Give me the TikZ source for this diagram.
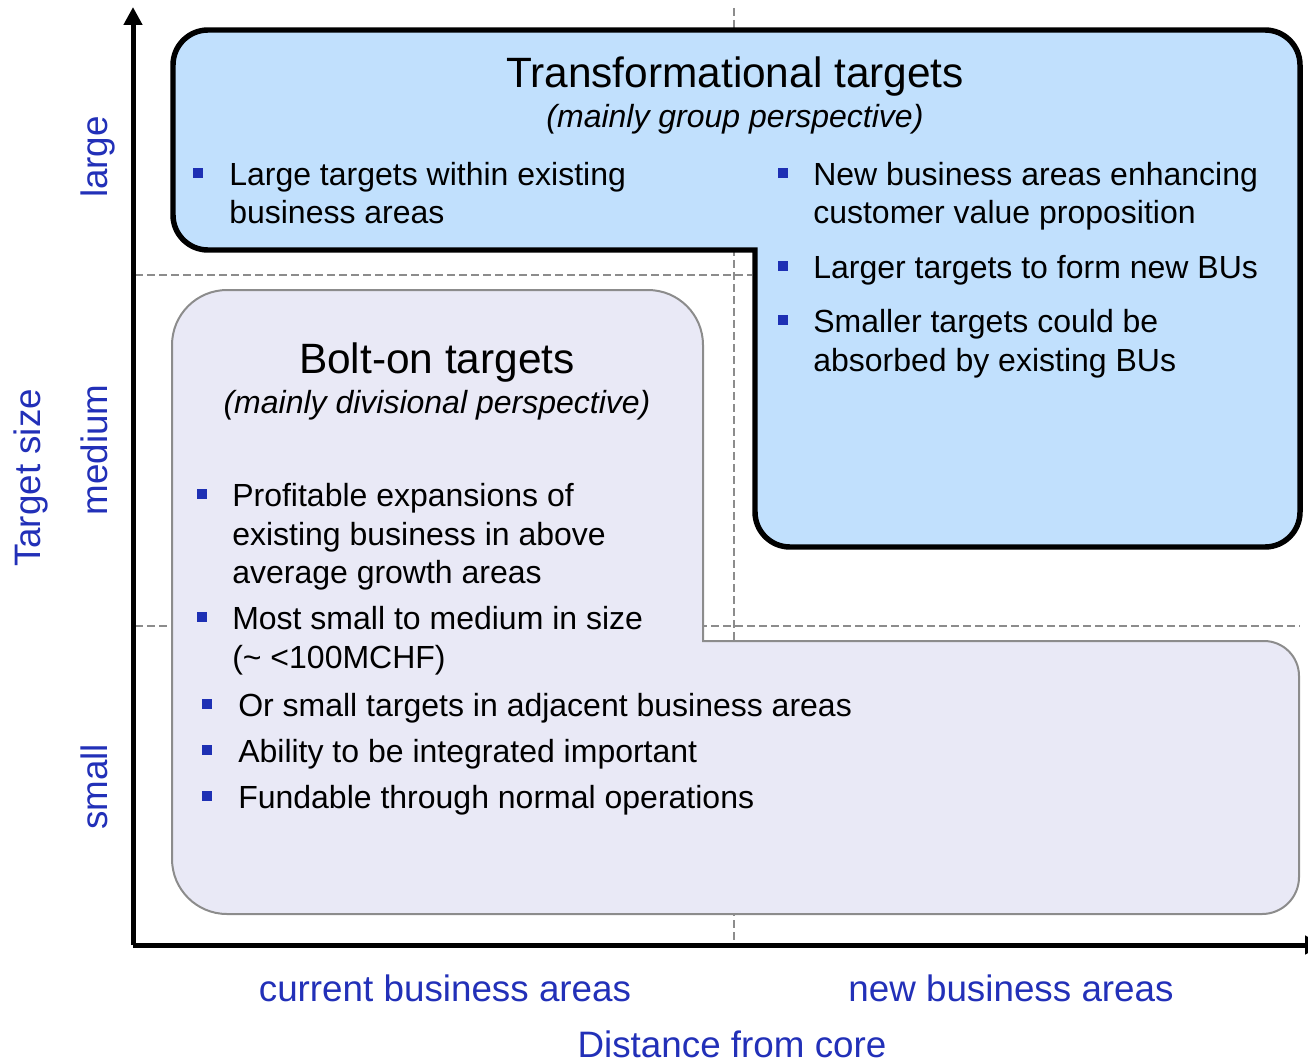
\documentclass[tikz,border=0pt]{standalone}
\usepackage{fontspec}
\setmainfont{Liberation Sans}
\usetikzlibrary{arrows.meta}

\definecolor{transfill}{RGB}{193,224,253}
\definecolor{boltfill}{RGB}{233,233,246}
\definecolor{boltline}{RGB}{140,140,140}
\definecolor{gridgrey}{RGB}{140,140,140}
\definecolor{labelblue}{RGB}{34,48,184}
\definecolor{bulletblue}{RGB}{30,48,180}

\tikzset{
  gridrule/.style={gridgrey, line width=1.1pt, dash pattern=on 6pt off 3pt},
  axisline/.style={line width=3.75pt, -{Triangle[length=13.5pt,width=13.5pt]}},
  transshape/.style={fill=transfill, draw=black, line width=4.1pt},
  boltshape/.style={fill=boltfill, draw=boltline, line width=1.5pt},
  bulletsq/.style={fill=bulletblue, inner sep=0pt, minimum size=7.3pt, draw=none},
  txt/.style={anchor=base west, inner sep=0pt, font=\fontsize{24}{28}\selectfont},
  bigtitle/.style={anchor=base, inner sep=0pt, font=\fontsize{31.8}{36}\selectfont},
  subtitle/.style={anchor=base, inner sep=0pt, font=\fontsize{24}{28}\selectfont\itshape},
  axislabel/.style={anchor=base, inner sep=0pt, text=labelblue, font=\fontsize{27.6}{32}\selectfont},
}

\begin{document}
\begin{tikzpicture}[x=0.75pt,y=0.75pt]
\useasboundingbox (0,0) rectangle (1308,-1063);
\clip (0,0) rectangle (1308,-1063);

% quadrant separators
\coordinate (vtop) at (734,-8);
\coordinate (vbot) at (734,-945);
\coordinate (hAl) at (135,-275);
\coordinate (hAr) at (752,-275);
\coordinate (hBl) at (135,-626);
\coordinate (hBr) at (1300,-626);
\draw[gridrule] (vtop) -- (vbot);
\draw[gridrule] (hAl) -- (hAr);
\draw[gridrule] (hBl) -- (hBr);

% axes
\coordinate (origin) at (133,-945);
\coordinate (ytip) at (133,-7);
\coordinate (xtip) at (1323,-945);
\draw[axisline] (origin) -- (ytip);
\draw[axisline] (origin) -- (xtip);

% transformational targets region (L-shape)
\draw[transshape] (755,-250) -- (208,-250)
  arc[start angle=270,end angle=180,radius=35] -- (173,-65)
  arc[start angle=180,end angle=90,radius=35] -- (1265,-30)
  arc[start angle=90,end angle=0,radius=35] -- (1300,-512)
  arc[start angle=0,end angle=-90,radius=35] -- (790,-547)
  arc[start angle=270,end angle=180,radius=35] -- cycle;

% bolt-on targets region (L-shape)
\draw[boltshape] (703,-641) -- (1264,-641)
  arc[start angle=90,end angle=0,radius=35] -- (1299,-877)
  arc[start angle=0,end angle=-90,radius=37] -- (227,-914)
  arc[start angle=270,end angle=180,radius=55] -- (172,-345)
  arc[start angle=180,end angle=90,radius=55] -- (648,-290)
  arc[start angle=90,end angle=0,radius=55] -- cycle;

% transformational targets text
\node[bigtitle] (ttitle) at (735,-87) {Transformational targets};
\node[subtitle] (tsub) at (735,-127) {(mainly group perspective)};

\node[bulletsq] (tb1) at (198,-173) {};
\node[txt] (tl1a) at (229,-185) {Large targets within existing};
\node[txt] (tl1b) at (229,-223) {business areas};

\node[bulletsq] (tb2) at (783,-173) {};
\node[txt] (tr1a) at (813,-185) {New business areas enhancing};
\node[txt] (tr1b) at (813,-223) {customer value proposition};
\node[bulletsq] (tb3) at (783,-266) {};
\node[txt] (tr2) at (813,-278) {Larger targets to form new BUs};
\node[bulletsq] (tb4) at (783,-320) {};
\node[txt] (tr3a) at (813,-332) {Smaller targets could be};
\node[txt] (tr3b) at (813,-371) {absorbed by existing BUs};

% bolt-on targets text
\node[bigtitle] (btitle) at (437,-373) {Bolt-on targets};
\node[subtitle] (bsub) at (437,-413) {(mainly divisional perspective)};

\node[bulletsq] (bb1) at (202,-494) {};
\node[txt] (bl1a) at (232,-506) {Profitable expansions of};
\node[txt] (bl1b) at (232,-545) {existing business in above};
\node[txt] (bl1c) at (232,-583) {average growth areas};
\node[bulletsq] (bb2) at (202,-617) {};
\node[txt] (bl2a) at (232,-629) {Most small to medium in size};
\node[txt] (bl2b) at (232,-668) {(\textasciitilde{} <100MCHF)};

\node[bulletsq] (bb3) at (207,-704) {};
\node[txt] (bl3) at (238,-716) {Or small targets in adjacent business areas};
\node[bulletsq] (bb4) at (207,-750) {};
\node[txt] (bl4) at (238,-762) {Ability to be integrated important};
\node[bulletsq] (bb5) at (207,-796) {};
\node[txt] (bl5) at (238,-808) {Fundable through normal operations};

% axis labels
\node[axislabel, rotate=90] (ylab) at (40,-478) {Target size};
\node[axislabel, rotate=90] (ylarge) at (107,-157) {large};
\node[axislabel, rotate=90] (ymedium) at (107,-450) {medium};
\node[axislabel, rotate=90] (ysmall) at (107,-787) {small};

\node[axislabel] (xcur) at (445,-1001) {current business areas};
\node[axislabel] (xnew) at (1011,-1001) {new business areas};
\node[axislabel, text depth=0pt] (xlab) at (732,-1057) {Distance from core};

\end{tikzpicture}
\end{document}
